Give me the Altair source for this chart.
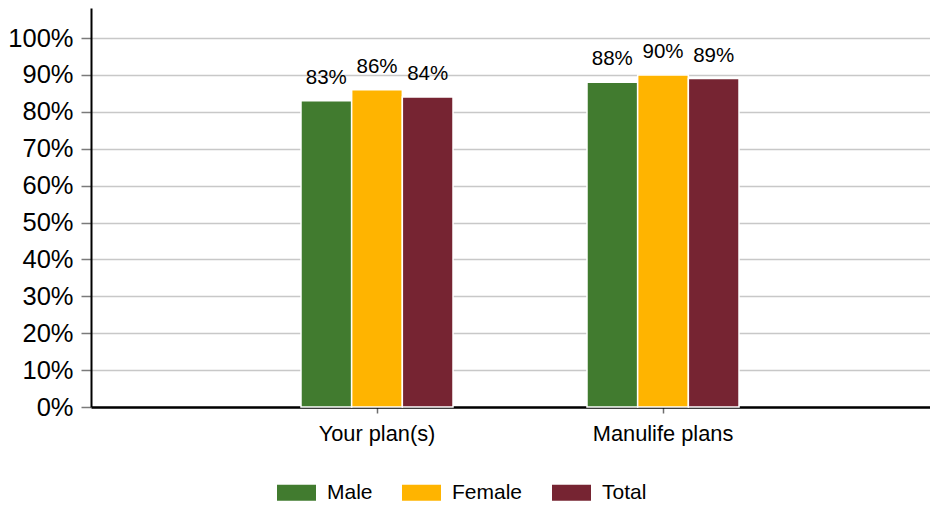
import altair as alt
import pandas as pd

categories = ["Your plan(s)", "Manulife plans"]
groups = ["Male", "Female", "Total"]
your_plan = [0.83, 0.86, 0.84]
manulife_plans = [0.88, 0.90, 0.89]
colors = ["#417B2F", "#FFB400", "#762432"]
y_ticks = [0, 0.1, 0.2, 0.3, 0.4, 0.5, 0.6, 0.7, 0.8, 0.9, 1.0]

rows = []
for cat, vals in zip(categories, [your_plan, manulife_plans]):
    for g, v in zip(groups, vals):
        rows.append({"category": cat, "group": g, "value": v})
df = pd.DataFrame(rows)

FONT = "Liberation Sans"

x_enc = alt.X(
    "category:N",
    sort=categories,
    scale=alt.Scale(paddingInner=0.4685, paddingOuter=0.701, align=0.5237),
    axis=alt.Axis(
        title=None, labelAngle=0, labelFontSize=21.8, labelFont=FONT, labelColor="#000000",
        domainColor="#000000", domainWidth=2.5, tickColor="#6e6e6e", tickSize=6,
        tickWidth=1.5, labelPadding=10, grid=False,
    ),
)
xoff = alt.XOffset("group:N", sort=groups, scale=alt.Scale(paddingInner=0, paddingOuter=0))
y_enc = alt.Y(
    "value:Q",
    scale=alt.Scale(domain=[0, 399 / 369], nice=False),
    axis=alt.Axis(
        title=None, values=y_ticks, format=".0%", labelFontSize=25.5, labelFont=FONT,
        labelColor="#000000", domainColor="#000000", domainWidth=2, tickColor="#7a7a7a",
        tickSize=10, tickWidth=1.5, labelPadding=8, gridColor="#c8c8c8", gridWidth=1.5,
        labelOverlap=False, labelFlush=False,
    ),
)

bars = alt.Chart(df).mark_bar(stroke="white", strokeWidth=1.5).encode(
    x=x_enc,
    xOffset=xoff,
    y=y_enc,
    color=alt.Color(
        "group:N",
        sort=groups,
        scale=alt.Scale(domain=groups, range=colors),
        legend=alt.Legend(
            title=None, orient="none", direction="horizontal", legendX=186, legendY=465,
            symbolType="M-1,-0.41H1V0.41H-1Z", symbolSize=1521, symbolStrokeWidth=0,
            labelFontSize=21, labelFont=FONT, labelColor="#000000", labelOffset=11,
            columnPadding=29, padding=0,
        ),
    ),
)

labels = alt.Chart(df).mark_text(
    font=FONT, fontSize=20.5, color="#000000", baseline="alphabetic", dy=-17
).encode(
    x=x_enc,
    xOffset=xoff,
    y=y_enc,
    text=alt.Text("value:Q", format=".0%"),
)

chart = (
    alt.layer(bars, labels)
    .properties(
        width=839,
        height=399,
        autosize=alt.AutoSizeParams(type="none"),
        padding={"left": 83, "top": 0, "right": 0, "bottom": 97},
    )
    .configure_view(stroke=None)
)

chart.save("out.html", embed_options={"renderer": "svg", "actions": False})
